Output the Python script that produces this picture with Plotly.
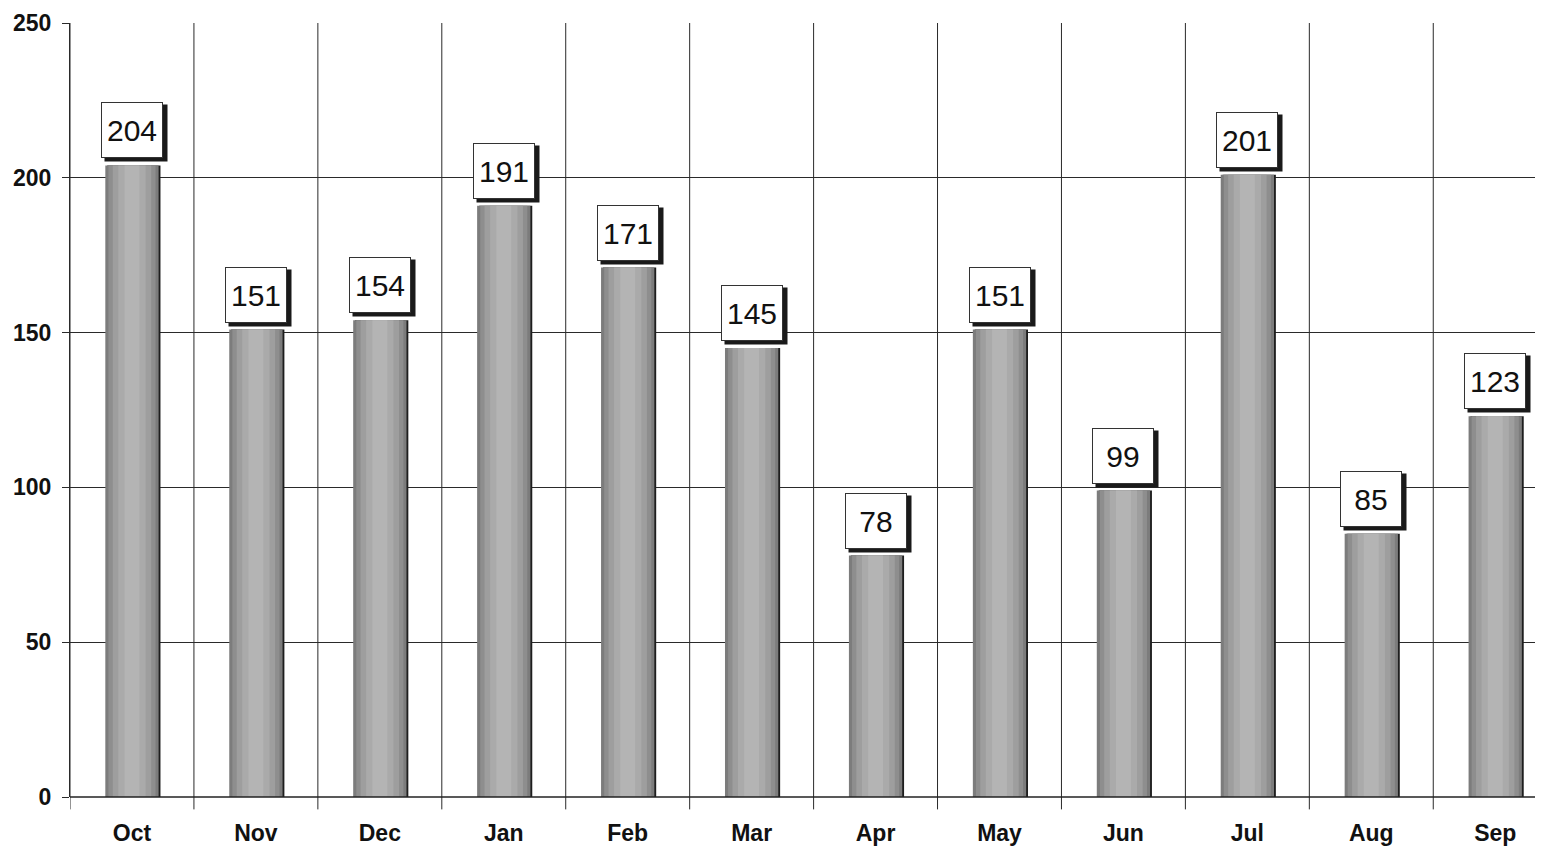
import plotly.graph_objects as go

months = ["Oct", "Nov", "Dec", "Jan", "Feb", "Mar", "Apr", "May", "Jun", "Jul", "Aug", "Sep"]
values = [204, 151, 154, 191, 171, 145, 78, 151, 99, 201, 85, 123]
y_ticks = [0, 50, 100, 150, 200, 250]

xpos = list(range(len(months)))

fig = go.Figure()

# shadow on the right side of each bar
fig.add_trace(go.Bar(x=xpos, y=values, width=0.43, offset=-0.2, marker=dict(color="#1e1e1e", line=dict(width=0)),
                     hoverinfo="skip", showlegend=False))
# cylinder shading layers
layers = [(0.43, "#7c7c7c"), (0.38, "#8e8e8e"), (0.31, "#9e9e9e"), (0.22, "#aaaaaa"), (0.12, "#b4b4b4")]
for w, c in layers:
    fig.add_trace(go.Bar(x=xpos, y=values, width=w, offset=-0.215 - (w - 0.43) / 2,
                         marker=dict(color=c, line=dict(width=0)),
                         hoverinfo="skip", showlegend=False))

shapes = []
for i in range(len(months)):
    shapes.append(dict(type="line", xref="x", yref="paper", x0=i - 0.5, x1=i - 0.5, y0=-0.016, y1=1,
                       line=dict(color="#2a2a2a", width=1), layer="below"))
shapes.append(dict(type="line", xref="paper", yref="paper", x0=0, x1=1, y0=0, y1=0,
                   line=dict(color="#222222", width=1.5)))

annotations = []
for i, v in enumerate(values):
    annotations.append(dict(x=i, y=v, xref="x", yref="y", text="", showarrow=False,
                            width=60, height=54, bgcolor="#1a1a1a", yanchor="bottom",
                            xshift=4, yshift=3))
    annotations.append(dict(x=i, y=v, xref="x", yref="y", text=str(v), showarrow=False,
                            width=58, height=52, bgcolor="white", bordercolor="#333333", borderwidth=1,
                            yanchor="bottom", yshift=7,
                            font=dict(family="Arial, Liberation Sans", size=30, color="#111111", weight="normal")))

fig.update_layout(
    width=1543, height=847,
    margin=dict(l=62, r=0, t=15, b=58),
    paper_bgcolor="white", plot_bgcolor="white",
    barmode="overlay",
    shapes=shapes,
    annotations=annotations,
    xaxis=dict(tickmode="array", tickvals=xpos, ticktext=months, range=[-0.5, 11.45],
               showgrid=False, zeroline=False, ticks="", showline=False, automargin=False,
               tickfont=dict(family="Arial, Liberation Sans", size=23, color="#111111", weight="bold"),
               ticklabelstandoff=20),
    yaxis=dict(range=[0, 250], tickvals=y_ticks, showgrid=True, gridcolor="#2a2a2a", gridwidth=1,
               zeroline=False, showline=True, linecolor="#2a2a2a", linewidth=1, automargin=False,
               ticks="outside", ticklen=7, tickcolor="#2a2a2a", ticklabelstandoff=6,
               tickfont=dict(family="Arial, Liberation Sans", size=23, color="#111111", weight="bold")),
    font=dict(family="Arial, Liberation Sans"),
)

fig.write_html("out.html")
